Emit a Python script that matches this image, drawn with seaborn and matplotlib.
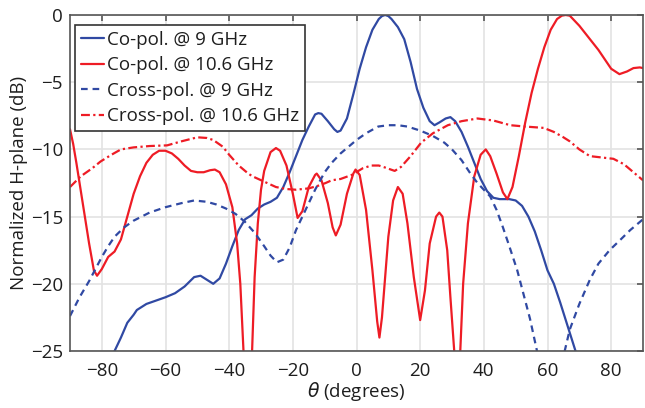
import matplotlib
matplotlib.use('Agg')
import matplotlib.pyplot as plt
import numpy as np
import pandas as pd
import seaborn as sns

# Co-pol @ 9 GHz (blue solid)
co9_theta = [-80, -76, -74, -72, -70, -69, -66, -63, -60, -57, -54, -51, -49, -47, -45, -43, -41, -39, -37,
             -35, -33, -31, -29, -27, -25, -23, -21, -19, -17, -15, -13, -12, -11, -9, -7, -6, -5, -3,
             -1, 1, 3, 5, 7, 8, 9, 10, 11, 13, 15, 17, 19, 21, 23, 24.5, 26, 28, 29.5, 31, 33, 35, 37, 39,
             41, 43, 45, 48, 50, 52, 54, 56, 58, 60, 62, 64, 66, 68, 70]
co9_db = [-28, -25, -24.0, -22.9, -22.3, -21.95, -21.5, -21.25, -21.0, -20.7, -20.2, -19.5, -19.4, -19.7,
          -20.0, -19.6, -18.5, -17.2, -16.0, -15.2, -14.9, -14.4, -14.1, -13.9, -13.6, -12.8, -11.7,
          -10.5, -9.3, -8.3, -7.4, -7.3, -7.35, -7.9, -8.5, -8.7, -8.6, -7.7, -5.9, -4.0, -2.4, -1.1,
          -0.3, -0.08, 0.0, -0.08, -0.3, -0.9, -1.8, -3.5, -5.5, -6.9, -7.9, -8.2, -8.0, -7.7, -7.6,
          -7.9, -8.7, -9.8, -11.0, -12.2, -13.1, -13.6, -13.7, -13.7, -13.8, -14.2, -15.0, -16.1,
          -17.5, -19.0, -20.0, -21.4, -22.9, -24.4, -25.9]

# Co-pol @ 10.6 GHz (red solid)
co106_theta = [-90, -89, -88, -86, -84, -82.5, -81.5, -80, -78, -76, -74, -72, -70, -68, -66, -64, -62,
               -60, -58, -56, -54, -52, -50, -48, -46, -44.5, -43, -41, -39, -37.5, -36.5, -35.5, -34,
               -32.8, -32, -31, -30, -29, -27, -25.3, -24, -22, -20, -18.5, -17, -15, -13, -12.5, -11,
               -9, -7.5, -6.5, -5, -3, -1, -0.3, 1, 3, 5, 6.5, 7.2, 8, 10, 11.5, 13, 14.5, 16, 18, 20,
               21.5, 23, 25, 26, 27, 28.5, 29.5, 30.7, 31.6, 32.6, 33.5, 35, 37, 39, 40.6, 42, 44, 46,
               47.4, 49, 51, 53, 55, 57, 59, 61, 63, 64.5, 65.7, 67, 68, 70, 72, 74, 76, 78, 80, 82.6,
               85, 87, 89, 90]
co106_db = [-8.5, -9.6, -11.0, -14.0, -17.0, -19.0, -19.4, -18.9, -18.0, -17.6, -16.7, -15.0, -13.3,
            -12.0, -11.0, -10.4, -10.1, -10.1, -10.3, -10.7, -11.2, -11.6, -11.7, -11.7, -11.55, -11.5,
            -11.7, -12.6, -14.3, -17.0, -20.0, -25.0, -32.0, -25.0, -19.5, -15.5, -13.0, -11.6, -10.2,
            -9.9, -10.1, -11.2, -13.3, -15.1, -14.6, -12.8, -11.9, -11.8, -12.3, -14.0, -15.8, -16.4,
            -15.6, -13.3, -11.8, -11.5, -11.9, -14.5, -19.0, -22.8, -24.0, -22.5, -16.5, -13.8, -12.8,
            -13.3, -15.5, -19.5, -22.7, -20.5, -17.0, -15.0, -14.7, -15.0, -17.5, -21.0, -25.0, -30.0,
            -25.0, -20.0, -15.5, -12.0, -10.4, -10.0, -10.5, -11.8, -13.2, -13.7, -12.8, -10.5, -8.0,
            -5.8, -4.0, -2.4, -1.1, -0.3, -0.05, 0.0, -0.05, -0.3, -0.8, -1.4, -2.0, -2.6, -3.3, -4.0,
            -4.4, -4.2, -3.95, -3.9, -3.95]

# Cross-pol @ 9 GHz (blue dashed)
x9_theta = [-90, -87, -84, -82, -80, -78, -76, -73, -70, -65, -60, -55, -51, -47, -44, -41, -38, -35,
            -32, -29, -27, -25, -23, -21, -19, -17, -15, -13, -10, -7.8, -5, -2.5, 0, 3, 6.8, 10, 13,
            16, 20, 24, 27.6, 30, 33, 35.8, 38, 40, 42, 44, 46, 48, 50.5, 52.5, 54.5, 56.7, 58, 61, 64,
            65.4, 67, 70, 73.3, 76, 79.5, 83, 86, 88, 90]
x9_db = [-22.4, -21.0, -19.8, -18.9, -18.0, -17.2, -16.5, -15.8, -15.3, -14.7, -14.3, -14.0, -13.8,
         -13.9, -14.1, -14.4, -14.8, -15.4, -16.2, -17.2, -17.9, -18.4, -18.2, -17.3, -16.0, -15.0,
         -14.0, -13.0, -11.7, -11.0, -10.3, -9.8, -9.3, -8.8, -8.3, -8.2, -8.2, -8.3, -8.6, -9.0,
         -9.5, -10.0, -10.8, -11.8, -12.5, -13.0, -13.5, -14.5, -15.8, -17.2, -19.0, -20.8, -22.6,
         -25.0, -27.0, -33.0, -28.0, -25.0, -23.4, -21.5, -19.7, -18.5, -17.5, -16.7, -16.0, -15.6,
         -15.2]

# Cross-pol @ 10.6 GHz (red dash-dot)
x106_theta = [-90, -86.6, -83, -80.4, -77, -74, -70, -65, -59.5, -55, -50, -47, -45, -42, -40, -37,
              -34, -32.7, -29, -25.3, -22, -19, -15, -12, -9.7, -7.8, -5, -1.5, 2, 4.7, 7, 9, 12, 14,
              17, 20.3, 24, 28.7, 33, 38, 43, 48.3, 53, 58.8, 62, 65, 67, 70, 73.3, 77, 80.7, 84, 87, 90]
x106_db = [-12.8, -12.0, -11.4, -10.9, -10.4, -10.0, -9.85, -9.75, -9.7, -9.4, -9.1, -9.15, -9.3, -9.8,
           -10.4, -11.2, -11.8, -12.0, -12.4, -12.8, -12.95, -13.0, -12.9, -12.7, -12.5, -12.3, -12.2,
           -11.9, -11.4, -11.2, -11.2, -11.35, -11.6, -11.3, -10.5, -9.5, -8.8, -8.2, -7.9, -7.7,
           -7.85, -8.2, -8.3, -8.4, -8.7, -9.1, -9.4, -10.0, -10.5, -10.6, -10.7, -11.1, -11.7, -12.3]

labels = ['Co-pol. @ 9 GHz', 'Co-pol. @ 10.6 GHz', 'Cross-pol. @ 9 GHz', 'Cross-pol. @ 10.6 GHz']
x_ticks = [-80, -60, -40, -20, 0, 20, 40, 60, 80]
y_ticks = [-25, -20, -15, -10, -5, 0]

BLUE = '#3049a3'
RED = '#ee1c25'
TXT = '#1e1e1e'

sns.set_style('white')
plt.rcParams['font.family'] = ['Open Sans', 'DejaVu Sans']

fig = plt.figure(figsize=(6.45, 4.08), dpi=100)
ax = fig.add_axes([70 / 645, 57 / 408, 573 / 645, 336 / 408])

sns.lineplot(x=co9_theta, y=co9_db, ax=ax, color=BLUE, lw=1.6, label=labels[0])
sns.lineplot(x=co106_theta, y=co106_db, ax=ax, color=RED, lw=1.6, label=labels[1])
sns.lineplot(x=x9_theta, y=x9_db, ax=ax, color=BLUE, lw=1.6, label=labels[2])
sns.lineplot(x=x106_theta, y=x106_db, ax=ax, color=RED, lw=1.6, label=labels[3])
lines = ax.get_lines()
lines[2].set_dashes((3, 2.2))
lines[3].set_dashes((4, 1.5, 1, 1.5))

ax.set_xlim(-90, 90)
ax.set_ylim(-25, 0)
ax.set_xticks(x_ticks)
ax.set_yticks(y_ticks)
ax.grid(True, color='#e3e3e3', lw=1.2)
ax.set_axisbelow(True)
for s in ax.spines.values():
    s.set_color('#555555')
    s.set_linewidth(1.2)
ax.tick_params(direction='in', length=4, width=1.2, color='#555555', top=True, right=True,
               labelsize=13.5, labelcolor=TXT)
ax.tick_params(axis='x', pad=8)
ax.tick_params(axis='y', pad=5)
ax.set_xlabel(r'$\theta$ (degrees)', fontsize=13.5, color=TXT, labelpad=0)
ax.set_ylabel('Normalized H-plane (dB)', fontsize=13.5, color=TXT, labelpad=2)

leg = ax.legend(loc='upper left', bbox_to_anchor=(0.009, 0.97), borderaxespad=0, fontsize=13.5,
                frameon=True, fancybox=False, framealpha=1, edgecolor='#333333',
                handlelength=1.25, handletextpad=0.15, labelspacing=0.4, borderpad=0.3)
leg.get_frame().set_linewidth(1.2)
for t in leg.get_texts():
    t.set_color(TXT)

fig.savefig('out.png', dpi=100)
